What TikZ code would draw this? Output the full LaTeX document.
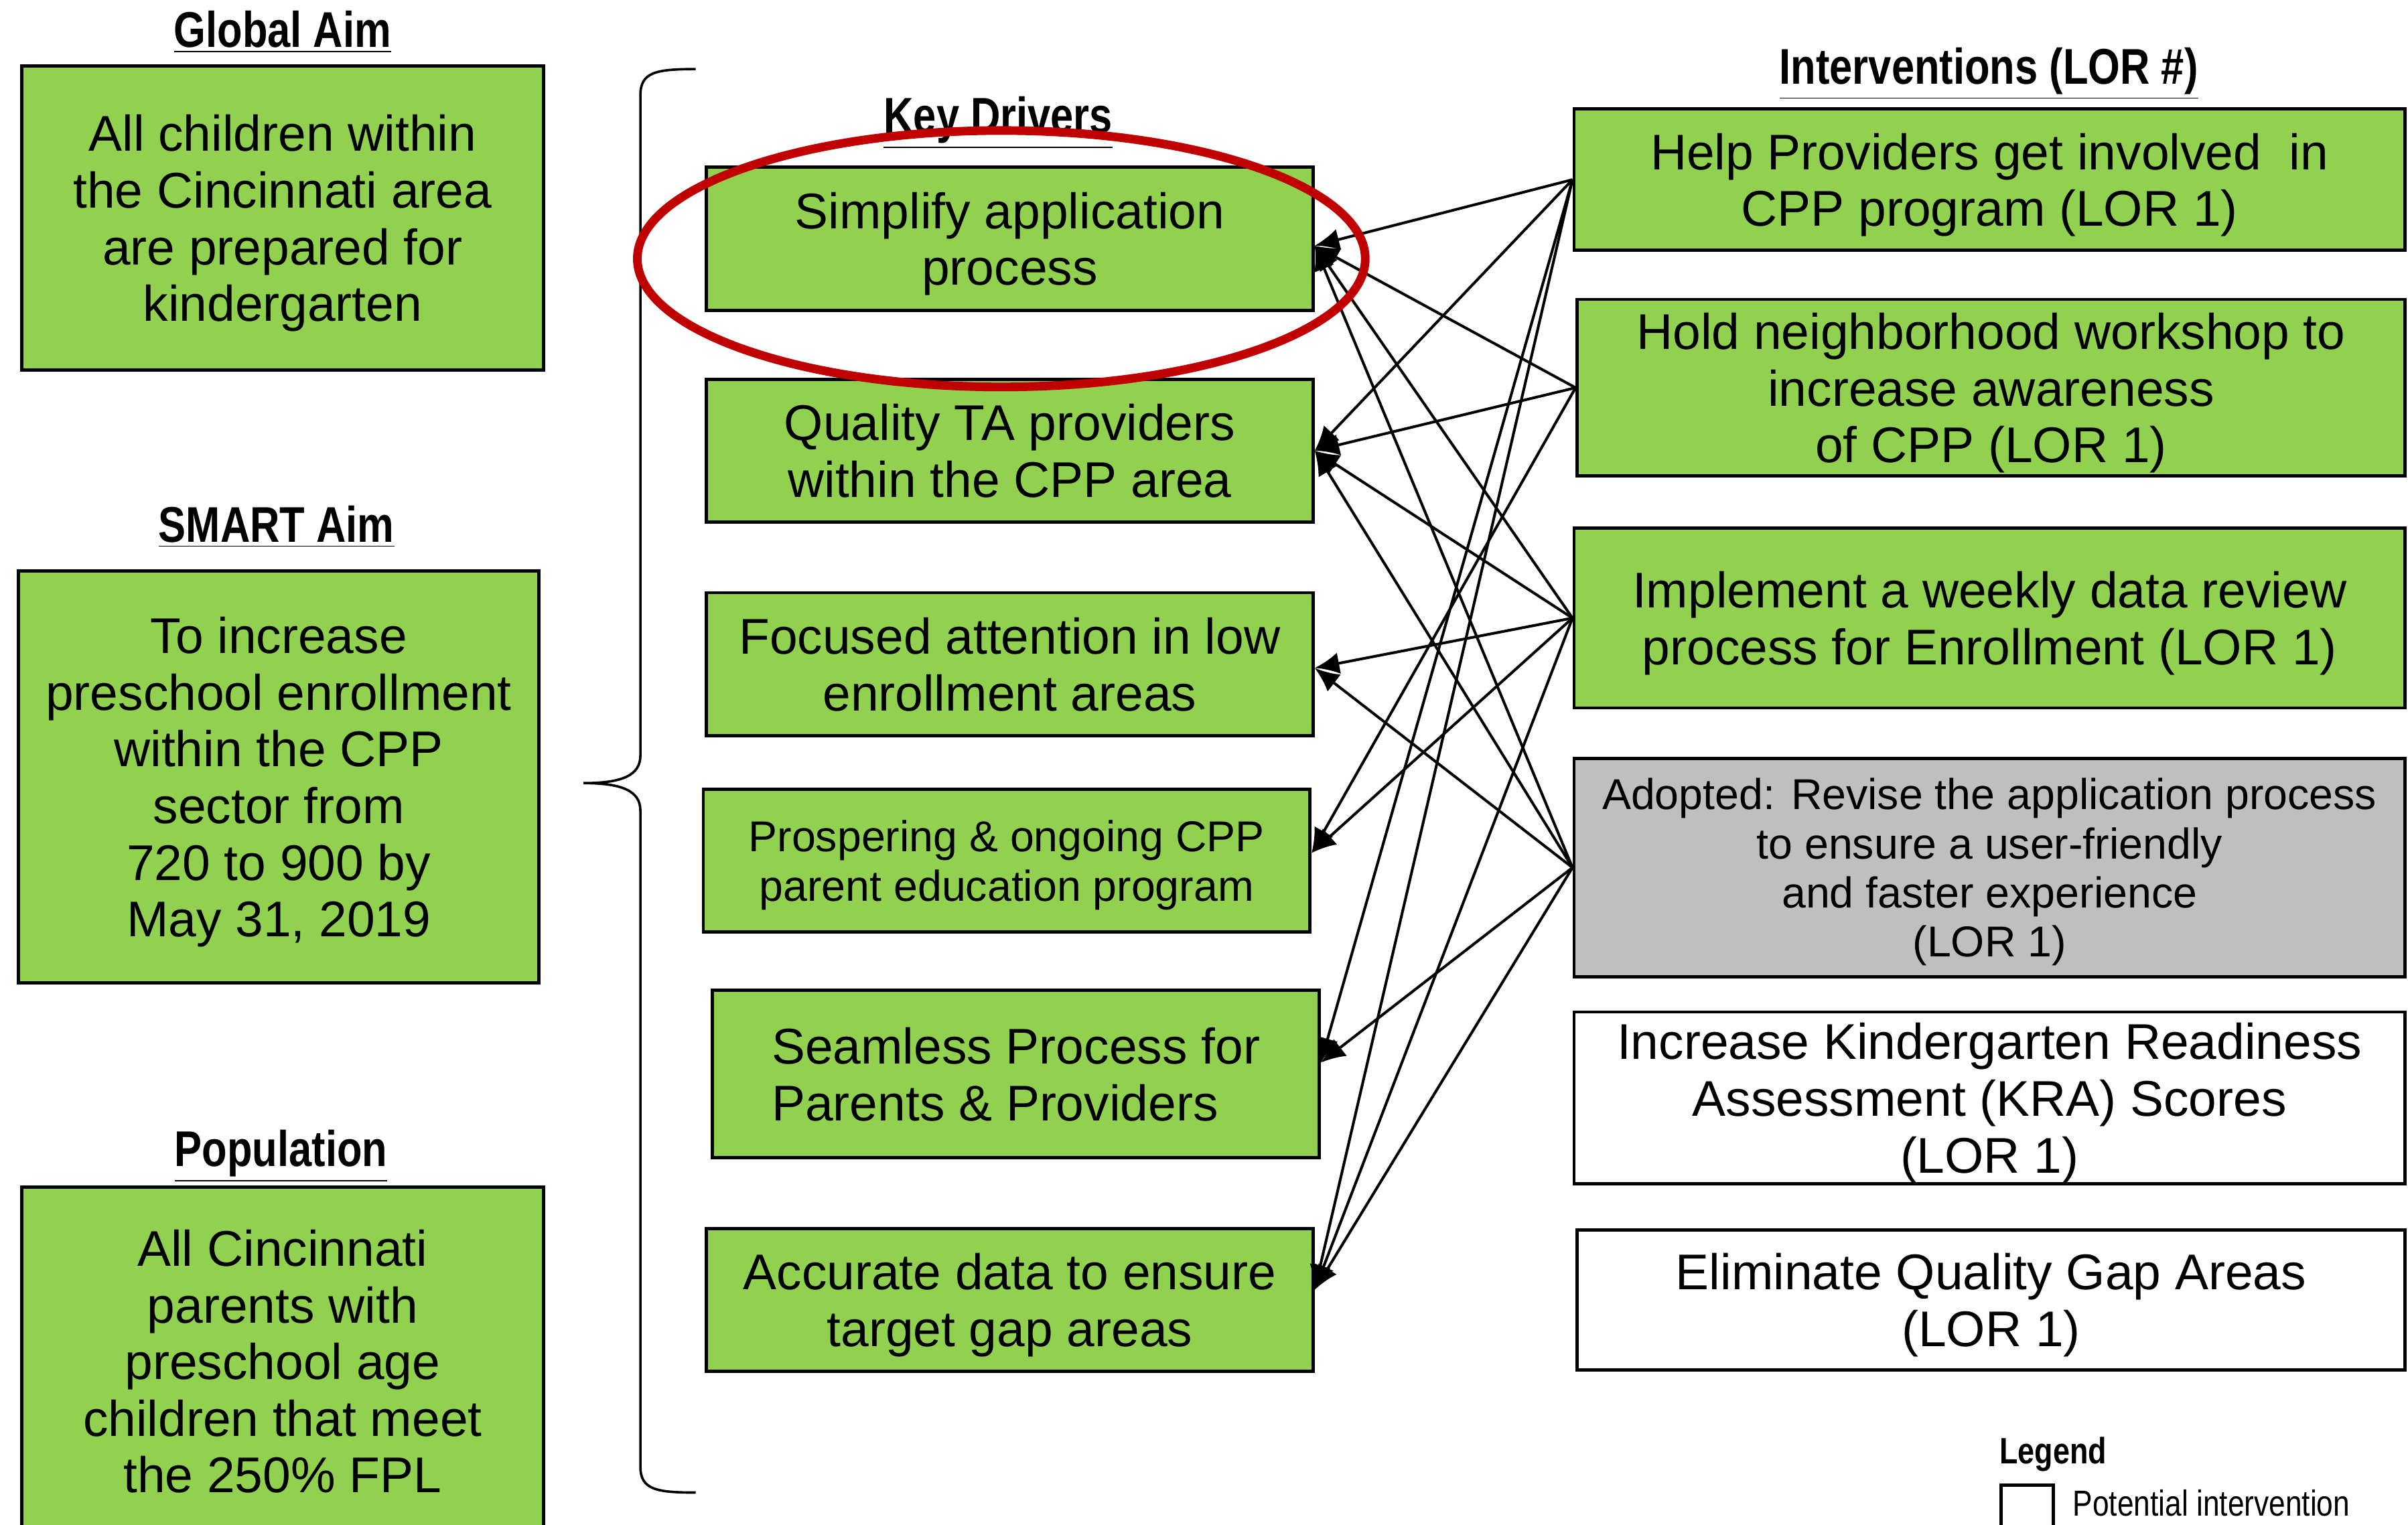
\documentclass[tikz,border=0pt]{standalone}
\usepackage{fontspec}
\setmainfont{Liberation Sans}
\newfontfamily\narrowfont[FakeStretch=0.82]{Liberation Sans}
\usetikzlibrary{arrows.meta}
\definecolor{boxgreen}{HTML}{92D050}
\definecolor{boxgray}{HTML}{BFBFBF}
\definecolor{ringred}{HTML}{C00000}
\begin{document}
\begin{tikzpicture}[
		x=0.2mm, y=-0.2mm,
		box/.style={draw=black, line width=1.2pt, fill=boxgreen, align=center, inner sep=0pt,
			font=\fontsize{18.6}{21}\selectfont, text depth=-0.7pt},
		smallbox/.style={box, font=\fontsize{16}{18.2}\selectfont},
		heading/.style={font=\narrowfont\bfseries\fontsize{18.6}{21}\selectfont},
		link/.style={line width=1pt, -{Latex[length=3.2mm,width=2.8mm]}}
	]
	\clip (0,0) rectangle (1568,993);

	\node[heading] (globalhead) at (184,21) {\underline{Global Aim}};
	\node[box, minimum width=68mm, minimum height=39.6mm] (globalaim) at (184,142)
		{All children within\\the Cincinnati area\\are prepared for\\kindergarten};
	\node[heading] (smarthead) at (180,343) {\underline{SMART Aim}};
	\node[box, minimum width=67.8mm, minimum height=53.6mm] (smartaim) at (181.5,506)
		{To increase\\preschool enrollment\\within the CPP\\sector from\\720 to 900 by\\May 31, 2019};
	\node[heading] (pophead) at (183,753) {\underline{Population}};
	\node[box, minimum width=68mm, minimum height=45.4mm] (population) at (184,886.5)
		{All Cincinnati\\parents with\\preschool age\\children that meet\\the 250\% FPL};

	\draw[line width=0.9pt] (453,45) .. controls (427,45) and (417,47) .. (417,62) -- (417,492)
		.. controls (417,505) and (405,510) .. (380,510)
		.. controls (405,510) and (417,515) .. (417,528) -- (417,955)
		.. controls (417,970) and (427,972) .. (453,972);

	\node[heading] (keyhead) at (650,80) {\underline{Key Drivers}};
	\node[box, minimum width=79mm, minimum height=18.6mm] (simplify) at (657.5,155.5)
		{Simplify application\\process};
	\node[box, minimum width=79mm, minimum height=18.6mm] (quality) at (657.5,293.5)
		{Quality TA providers\\within the CPP area};
	\node[box, minimum width=79mm, minimum height=18.6mm] (focused) at (657.5,432.5)
		{Focused attention in low\\enrollment areas};
	\node[smallbox, minimum width=79mm, minimum height=18.6mm] (prospering) at (655.5,560.5)
		{Prospering \& ongoing CPP\\parent education program};
	\node[box, align=left, minimum width=79mm, minimum height=21.8mm] (seamless) at (661.5,699.5)
		{Seamless Process for\\Parents \& Providers};
	\node[box, minimum width=79mm, minimum height=18.6mm] (accurate) at (657.5,846.5)
		{Accurate data to ensure\\target gap areas};

	\coordinate (simplify in) at ([yshift=-0.9mm]simplify.east);
	\coordinate (focused in) at ([yshift=-0.5mm]focused.east);
	\coordinate (prospering in) at ([yshift=1mm]prospering.east);
	\coordinate (seamless in) at ([yshift=1.5mm]seamless.east);
	\coordinate (accurate in) at ([yshift=1.3mm]accurate.east);

	\node[heading] (interhead) at (1295,48) {\underline{Interventions (LOR \#)}};
	\node[box, minimum width=108.2mm, minimum height=18.4mm] (helpprov) at (1295.5,117)
		{Help Providers get involved\ \ in\\CPP program (LOR 1)};
	\node[box, minimum width=107.8mm, minimum height=23mm] (workshop) at (1296.5,252.5)
		{Hold neighborhood workshop to\\increase awareness\\of CPP (LOR 1)};
	\node[box, minimum width=108.2mm, minimum height=23.4mm] (datareview) at (1295.5,402.5)
		{Implement a weekly data review\\process for Enrollment (LOR 1)};
	\node[smallbox, fill=boxgray, minimum width=108.2mm, minimum height=28.4mm] (adopted) at (1295.5,565)
		{Adopted: Revise the application process\\to ensure a user-friendly\\and faster experience\\(LOR 1)};
	\node[box, fill=white, minimum width=108.2mm, minimum height=22.4mm] (kra) at (1295.5,715)
		{Increase Kindergarten Readiness\\Assessment (KRA) Scores\\(LOR 1)};
	\node[box, fill=white, minimum width=107.8mm, minimum height=18.2mm] (qualitygap) at (1296.5,846.5)
		{Eliminate Quality Gap Areas\\(LOR 1)};

	\draw[link] (helpprov.west) -- (simplify in);
	\draw[link] (helpprov.west) -- (quality.east);
	\draw[link] (helpprov.west) -- (seamless in);
	\draw[link] (helpprov.west) -- (accurate in);
	\draw[link] (workshop.west) -- (simplify in);
	\draw[link] (workshop.west) -- (quality.east);
	\draw[link] (workshop.west) -- (prospering in);
	\draw[link] (datareview.west) -- (simplify in);
	\draw[link] (datareview.west) -- (quality.east);
	\draw[link] (datareview.west) -- (focused in);
	\draw[link] (datareview.west) -- (prospering in);
	\draw[link] (datareview.west) -- (accurate in);
	\draw[link] (adopted.west) -- (simplify in);
	\draw[link] (adopted.west) -- (quality.east);
	\draw[link] (adopted.west) -- (focused in);
	\draw[link] (adopted.west) -- (seamless in);
	\draw[link] (adopted.west) -- (accurate in);

	\draw[ringred, line width=3.2pt] (652,168.5) ellipse [x radius=47.4mm, y radius=16.7mm];

	\node[font=\narrowfont\bfseries\fontsize{13.6}{16}\selectfont] (legendhead) at (1337,947) {Legend};
	\node[draw=black, line width=1.2pt, minimum width=6.8mm, minimum height=6.8mm, inner sep=0pt] (legendbox) at (1320,984) {};
	\node[font=\narrowfont\fontsize{13.4}{16}\selectfont] (legendtext) at (1440,979) {Potential intervention};
\end{tikzpicture}
\end{document}
